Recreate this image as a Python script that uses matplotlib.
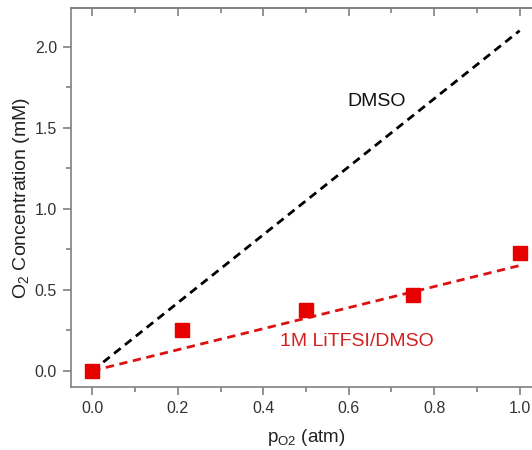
import matplotlib
matplotlib.use("Agg")
import matplotlib.pyplot as plt
import numpy as np

plt.rcParams['font.family'] = ['Liberation Sans', 'DejaVu Sans']

p_o2 = [0.0, 0.21, 0.5, 0.75, 1.0]
conc_litfsi = [0.0, 0.25, 0.375, 0.47, 0.725]
fit_x = [0.0, 1.0]
fit_dmso = [0.0, 2.1]
fit_litfsi = [0.0, 0.65]

fig = plt.figure(figsize=(5.32, 4.5), dpi=100)
ax = fig.add_axes([71/532, 63/450, (541-71)/532, (387-8)/450])

red = '#e60000'
ax.plot(fit_x, fit_dmso, color='black', linestyle=(0, (3, 2)), linewidth=2)
ax.plot(fit_x, fit_litfsi, color='#dd1111', linestyle=(0, (3, 2)), linewidth=2)
ax.plot(p_o2, conc_litfsi, linestyle='none', marker='s', markersize=10.5, color=red)

ax.text(0.665, 1.66, 'DMSO', fontsize=14, color='#111111', ha='center', va='center')
ax.text(0.62, 0.18, '1M LiTFSI/DMSO', fontsize=14, color='#d42020', ha='center', va='center')

ax.set_xlim(-0.05, 1.05)
ax.set_ylim(-0.1, 2.24)
xmaj = [0.0, 0.2, 0.4, 0.6, 0.8, 1.0]
xmin = [0.1, 0.3, 0.5, 0.7, 0.9]
ax.set_xticks(xmaj)
ax.set_xticks(xmin, minor=True)
ax.set_yticks([0.0, 0.5, 1.0, 1.5, 2.0])
ax.set_yticks([0.25, 0.75, 1.25, 1.75], minor=True)
ax.xaxis.set_major_formatter(matplotlib.ticker.FormatStrFormatter('%.1f'))
ax.yaxis.set_major_formatter(matplotlib.ticker.FormatStrFormatter('%.1f'))

spine_c = '#808080'
for s in ['left', 'bottom', 'top']:
    ax.spines[s].set_color(spine_c)
    ax.spines[s].set_linewidth(1.2)
ax.spines['right'].set_visible(False)

ax.tick_params(axis='both', which='major', direction='out', length=6, width=1.2,
               color=spine_c, labelsize=11.5, labelcolor='#333333', pad=4)
ax.tick_params(axis='both', which='minor', direction='out', length=3.5, width=1.2, color=spine_c)

# top axis with inward ticks, no labels
top = ax.secondary_xaxis('top')
top.set_xticks(xmaj)
top.set_xticks(xmin, minor=True)
top.tick_params(which='major', direction='in', length=6, width=1.2, color=spine_c, labeltop=False)
top.tick_params(which='minor', direction='in', length=3.5, width=1.2, color=spine_c)
top.spines['top'].set_color(spine_c)
top.spines['top'].set_linewidth(1.2)

ax.set_xlabel('p$_{\\mathregular{O2}}$ (atm)', fontsize=13.5, color='#222222', labelpad=8)
ax.set_ylabel('O$_{\\mathregular{2}}$ Concentration (mM)', fontsize=14, color='#222222', labelpad=2)

fig.savefig('out.png', dpi=100)
